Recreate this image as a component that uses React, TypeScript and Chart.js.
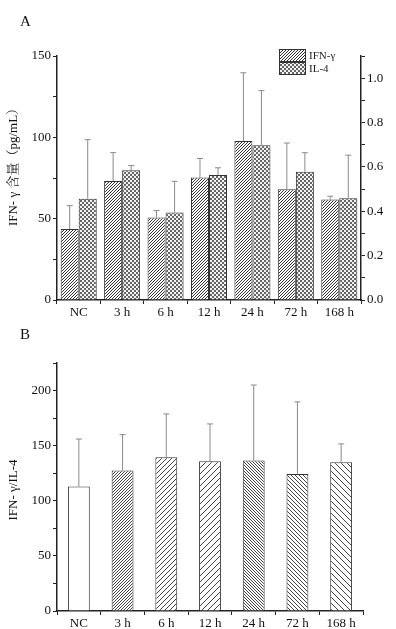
import React, { useEffect, useRef } from "react";
import { Chart, registerables } from "chart.js";

Chart.register(...registerables);

const categories = ["NC", "3 h", "6 h", "12 h", "24 h", "72 h", "168 h"];

// Panel A – IFN-γ (left axis, pg/mL)
const ifnMean = [43.6, 73.2, 50.7, 75.3, 97.7, 68.1, 61.8];
const ifnSD = [14.4, 17.4, 4.3, 11.7, 42.0, 28.4, 2.0];
// Panel A – IL-4 (right axis)
const il4Mean = [0.457, 0.585, 0.394, 0.563, 0.698, 0.578, 0.459];
const il4SD = [0.266, 0.021, 0.141, 0.033, 0.246, 0.086, 0.194];

// Panel B – IFN-γ/IL-4 ratio
const ratioMean = [113, 127.4, 139.5, 135.9, 136.5, 124.4, 135];
const ratioSD = [43, 32.6, 39.3, 33.8, 68.5, 65.3, 16.6];

const leftTicksA = [0, 50, 100, 150];
const rightTicksA = [0.0, 0.2, 0.4, 0.6, 0.8, 1.0];
const ticksB = [0, 50, 100, 150, 200];

const titleA = "IFN- γ 含量（pg/mL）";
const titleB = "IFN- γ/IL-4";

const SERIF = "'Liberation Serif', 'Noto Serif CJK SC', 'Noto Sans CJK SC', serif";

function hatch(spacing: number, dir: "/" | "\\", color: string, lw = 1) {
  const c = document.createElement("canvas");
  c.width = spacing;
  c.height = spacing;
  const g = c.getContext("2d")!;
  g.fillStyle = "#ffffff";
  g.fillRect(0, 0, spacing, spacing);
  g.strokeStyle = color;
  g.lineWidth = lw;
  g.beginPath();
  const s = spacing;
  if (dir === "/") {
    for (const o of [-s, 0, s]) {
      g.moveTo(o - 1, s + 1);
      g.lineTo(o + s + 1, -1);
    }
  } else {
    for (const o of [-s, 0, s]) {
      g.moveTo(o - 1, -1);
      g.lineTo(o + s + 1, s + 1);
    }
  }
  g.stroke();
  return g.createPattern(c, "repeat")!;
}

function checker(cell: number, dark: string, light: string) {
  const c = document.createElement("canvas");
  c.width = cell * 2;
  c.height = cell * 2;
  const g = c.getContext("2d")!;
  g.fillStyle = light;
  g.fillRect(0, 0, cell * 2, cell * 2);
  g.fillStyle = dark;
  g.fillRect(0, 0, cell, cell);
  g.fillRect(cell, cell, cell, cell);
  return g.createPattern(c, "repeat")!;
}

const errorBarPlugin = {
  id: "errorBars",
  afterDatasetsDraw(chart: any) {
    const ctx = chart.ctx;
    chart.data.datasets.forEach((ds: any, di: number) => {
      const errs: number[] | undefined = ds.errors;
      if (!errs) return;
      const meta = chart.getDatasetMeta(di);
      const scale = chart.scales[meta.yAxisID];
      meta.data.forEach((el: any, i: number) => {
        const v = ds.data[i];
        const yTop = scale.getPixelForValue(v);
        const yErr = scale.getPixelForValue(v + errs[i]);
        ctx.save();
        ctx.strokeStyle = "#8a8a8a";
        ctx.lineWidth = 1;
        ctx.beginPath();
        ctx.moveTo(el.x, yTop);
        ctx.lineTo(el.x, yErr);
        ctx.moveTo(el.x - 3, yErr);
        ctx.lineTo(el.x + 3, yErr);
        ctx.stroke();
        ctx.restore();
      });
    });
  },
};

const legendPlugin = {
  id: "legendA",
  afterDraw(chart: any) {
    if (!chart.options.plugins.legendA?.show) return;
    const ctx = chart.ctx;
    const area = chart.chartArea;
    const x = area.right - 82;
    let y = area.top - 7;
    chart.data.datasets.forEach((ds: any) => {
      ctx.save();
      ctx.fillStyle = ds.backgroundColor;
      ctx.fillRect(x, y, 27, 13);
      ctx.strokeStyle = "#333";
      ctx.lineWidth = 1;
      ctx.strokeRect(x + 0.5, y + 0.5, 26, 12);
      ctx.fillStyle = "#222";
      ctx.font = `11px ${SERIF}`;
      ctx.textBaseline = "middle";
      ctx.fillText(ds.label, x + 30, y + 7);
      ctx.restore();
      y += 13;
    });
  },
};

// vertical y-axis title drawn at a fixed offset from the chart area
const yTitlePlugin = {
  id: "yTitle",
  afterDraw(chart: any) {
    const o = chart.options.plugins.yTitle;
    if (!o) return;
    const ctx = chart.ctx;
    const area = chart.chartArea;
    const cy = (area.top + area.bottom) / 2 + o.dy;
    ctx.save();
    ctx.translate(o.x, cy);
    ctx.rotate(-Math.PI / 2);
    ctx.fillStyle = "#111";
    ctx.font = `${o.size}px ${SERIF}`;
    ctx.textAlign = "center";
    ctx.textBaseline = "middle";
    ctx.fillText(o.text, 0, 0);
    ctx.restore();
  },
};

const axisColor = "#222";

function ChartA() {
  const ref = useRef<HTMLCanvasElement>(null);
  useEffect(() => {
    const ifnPat = hatch(3, "/", "#333");
    const il4Pat = checker(2, "#666", "#f2f2f2");
    const chart = new Chart(ref.current!, {
      type: "bar",
      data: {
        labels: categories,
        datasets: [
          {
            label: "IFN-γ",
            data: ifnMean,
            errors: ifnSD,
            yAxisID: "y",
            backgroundColor: ifnPat,
            borderColor: "#333",
            borderWidth: 1,
            categoryPercentage: 0.83,
            barPercentage: 1,
          } as any,
          {
            label: "IL-4",
            data: il4Mean,
            errors: il4SD,
            yAxisID: "y1",
            backgroundColor: il4Pat,
            borderColor: "#333",
            borderWidth: 1,
            categoryPercentage: 0.83,
            barPercentage: 1,
          } as any,
        ],
      },
      options: {
        responsive: false,
        animation: false,
        devicePixelRatio: 1,
        layout: { padding: { top: 56, left: 0, right: 0, bottom: 0 } },
        plugins: {
          legend: { display: false },
          tooltip: { enabled: false },
          legendA: { show: true },
          yTitle: { text: titleA, x: 14, dy: -14, size: 13 },
        } as any,
        scales: {
          x: {
            grid: { display: true, drawOnChartArea: false, color: axisColor, tickLength: 4, offset: true },
            border: { display: true, color: axisColor, width: 1.5 },
            ticks: { color: "#111", font: { family: SERIF, size: 13 }, padding: 1, maxRotation: 0, autoSkip: false },
            afterFit: (s: any) => { s.height = 18; },
          },
          y: {
            position: "left",
            min: 0,
            max: 150,
            grid: { display: true, drawOnChartArea: false, color: axisColor, tickLength: 4 },
            border: { display: true, color: axisColor, width: 1.5 },
            ticks: {
              stepSize: 25,
              autoSkip: false,
              color: "#111",
              padding: 2,
              font: { family: SERIF, size: 13 },
              callback: (v: any) => (leftTicksA.includes(Number(v)) ? String(v) : ""),
            },
            afterFit: (s: any) => { s.width = 57; },
          },
          y1: {
            position: "right",
            min: 0,
            max: 1.1,
            grid: { display: true, drawOnChartArea: false, color: axisColor, tickLength: 4 },
            border: { display: true, color: axisColor, width: 1.5 },
            ticks: {
              stepSize: 0.1,
              autoSkip: false,
              color: "#111",
              padding: 2,
              font: { family: SERIF, size: 13 },
              callback: (v: any) => {
                const n = Math.round(Number(v) * 10) / 10;
                return rightTicksA.some((t) => Math.abs(t - n) < 1e-6) ? n.toFixed(1) : "";
              },
            },
            afterFit: (s: any) => { s.width = 35; },
          },
        },
      },
      plugins: [errorBarPlugin, legendPlugin, yTitlePlugin],
    });
    return () => chart.destroy();
  }, []);
  return <canvas ref={ref} width={396} height={318} style={{ position: "absolute", left: 0, top: 0, width: 396, height: 318 }} />;
}

function ChartB() {
  const ref = useRef<HTMLCanvasElement>(null);
  useEffect(() => {
    const pats = [
      "#ffffff",
      hatch(3, "/", "#444"),
      hatch(5, "/", "#444"),
      hatch(6, "/", "#444"),
      hatch(3, "\\", "#444"),
      hatch(4, "\\", "#444"),
      hatch(6, "\\", "#444"),
    ];
    const chart = new Chart(ref.current!, {
      type: "bar",
      data: {
        labels: categories,
        datasets: [
          {
            label: "IFN-γ/IL-4",
            data: ratioMean,
            errors: ratioSD,
            yAxisID: "y",
            backgroundColor: pats,
            borderColor: "#333",
            borderWidth: 1,
            categoryPercentage: 1,
            barPercentage: 0.5,
          } as any,
        ],
      },
      options: {
        responsive: false,
        animation: false,
        devicePixelRatio: 1,
        layout: { padding: { top: 43, left: 0, right: 33, bottom: 0 } },
        plugins: {
          legend: { display: false },
          tooltip: { enabled: false },
          yTitle: { text: titleB, x: 14, dy: 3, size: 13 },
        } as any,
        scales: {
          x: {
            grid: { display: true, drawOnChartArea: false, color: axisColor, tickLength: 4, offset: true },
            border: { display: true, color: axisColor, width: 1.5 },
            ticks: { color: "#111", font: { family: SERIF, size: 13 }, padding: 1, maxRotation: 0, autoSkip: false },
            afterFit: (s: any) => { s.height = 18; },
          },
          y: {
            position: "left",
            min: 0,
            max: 225,
            grid: { display: true, drawOnChartArea: false, color: axisColor, tickLength: 4 },
            border: { display: true, color: axisColor, width: 1.5 },
            ticks: {
              stepSize: 25,
              autoSkip: false,
              color: "#111",
              padding: 2,
              font: { family: SERIF, size: 13 },
              callback: (v: any) => (ticksB.includes(Number(v)) ? String(v) : ""),
            },
            afterFit: (s: any) => { s.width = 57; },
          },
        },
      },
      plugins: [errorBarPlugin, yTitlePlugin],
    });
    return () => chart.destroy();
  }, []);
  return <canvas ref={ref} width={396} height={309} style={{ position: "absolute", left: 0, top: 320, width: 396, height: 309 }} />;
}

export default function App() {
  const label: React.CSSProperties = {
    position: "absolute",
    left: 20,
    fontFamily: SERIF,
    fontSize: 15,
    lineHeight: 1,
    color: "#111",
  };
  return (
    <div style={{ position: "absolute", left: 0, top: 0, width: 396, height: 629, background: "#fff", overflow: "hidden" }}>
      <ChartA />
      <ChartB />
      <div style={{ ...label, top: 14 }}>A</div>
      <div style={{ ...label, top: 327 }}>B</div>
    </div>
  );
}
